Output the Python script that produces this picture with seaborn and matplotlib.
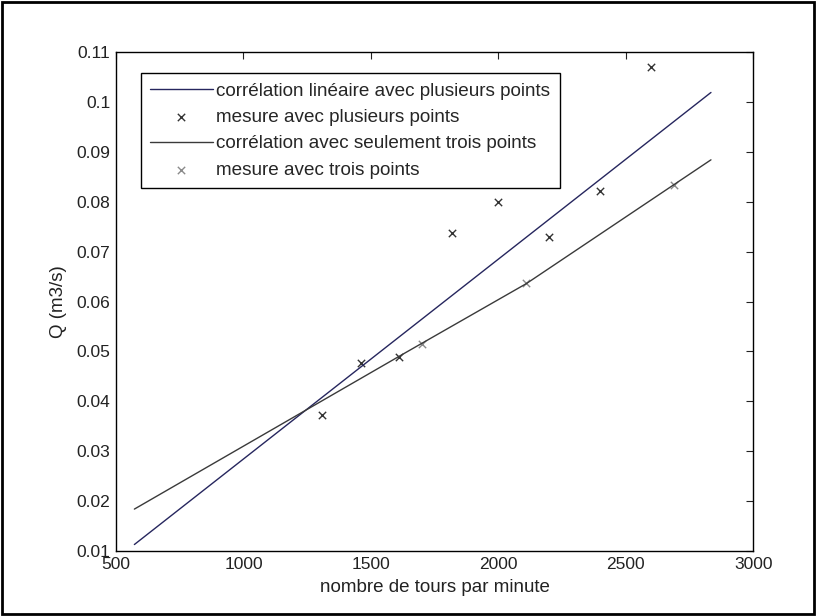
import numpy as np
import pandas as pd
import matplotlib
matplotlib.use("Agg")
import matplotlib.pyplot as plt
from matplotlib.patches import Rectangle
import seaborn as sns

# ===========================
# Data
# ===========================

# measurements with several points (black crosses)
rpm_many = [1310, 1460, 1610, 1820, 2000, 2200, 2400, 2600]
q_many = [0.0373, 0.0476, 0.0489, 0.0738, 0.0800, 0.0729, 0.0822, 0.1070]

# measurements with three points (grey crosses)
rpm_three = [1700, 2110, 2690]
q_three = [0.0514, 0.0638, 0.0833]

# linear correlation with several points (vertices of the drawn line)
rpm_fit_many = [572, 2834]
q_fit_many = [0.0113, 0.1019]

# correlation with only three points (vertices of the drawn line)
rpm_fit_three = [572, 1610, 2110, 2834]
q_fit_three = [0.0184, 0.0490, 0.0636, 0.0884]

x_ticks = [500, 1000, 1500, 2000, 2500, 3000]
y_ticks = [0.01, 0.02, 0.03, 0.04, 0.05, 0.06, 0.07, 0.08, 0.09, 0.1, 0.11]
y_tick_labels = ["0.01", "0.02", "0.03", "0.04", "0.05", "0.06",
                 "0.07", "0.08", "0.09", "0.1", "0.11"]

lbl_fit_many = "corrélation linéaire avec plusieurs points"
lbl_many = "mesure avec plusieurs points"
lbl_fit_three = "corrélation avec seulement trois points"
lbl_three = "mesure avec trois points"

# ===========================
# Plot
# ===========================

sns.set_style("white")
plt.rcParams["font.family"] = ["Liberation Sans", "DejaVu Sans"]

fig = plt.figure(figsize=(8.17, 6.16), dpi=100)
ax = fig.add_axes([0.142, 0.1055, 0.780, 0.810])

df_fit_many = pd.DataFrame({"rpm": rpm_fit_many, "q": q_fit_many})
df_fit_three = pd.DataFrame({"rpm": rpm_fit_three, "q": q_fit_three})
df_many = pd.DataFrame({"rpm": rpm_many, "q": q_many})
df_three = pd.DataFrame({"rpm": rpm_three, "q": q_three})

sns.lineplot(data=df_fit_many, x="rpm", y="q", ax=ax, color="#26265e",
             linewidth=1.0, sort=False, estimator=None, label=lbl_fit_many)
sns.scatterplot(data=df_many, x="rpm", y="q", ax=ax, marker="x", color="#333333",
                s=28, linewidth=1.0, label=lbl_many)
sns.lineplot(data=df_fit_three, x="rpm", y="q", ax=ax, color="#3a3a3a",
             linewidth=1.0, sort=False, estimator=None, label=lbl_fit_three)
sns.scatterplot(data=df_three, x="rpm", y="q", ax=ax, marker="x", color="#8a8a8a",
                s=28, linewidth=1.0, label=lbl_three)

ax.set_xlim(500, 3000)
ax.set_ylim(0.01, 0.11)
ax.set_xticks(x_ticks)
ax.set_yticks(y_ticks)
ax.set_yticklabels(y_tick_labels)
ax.tick_params(direction="in", length=5, width=0.8, top=True, right=True,
               colors="#222222", pad=4, labelsize=12.5)
for side in ax.spines.values():
    side.set_color("black")
    side.set_linewidth(1.0)

ax.set_xlabel("nombre de tours par minute", fontsize=13.5, color="#222222",
              labelpad=5)
ax.set_ylabel("Q (m3/s)", fontsize=13.5, color="#222222", labelpad=7)

leg = ax.legend(loc="upper left", bbox_to_anchor=(0.039, 0.958), borderaxespad=0,
                fancybox=False, edgecolor="black", framealpha=1, fontsize=13.6,
                handlelength=3.3, handletextpad=0.2, labelspacing=0.48,
                borderpad=0.5)
leg.get_frame().set_linewidth(1.0)

# outer frame around the whole figure
fig.patches.append(Rectangle((0.003, 0.004), 0.993, 0.992, transform=fig.transFigure,
                             fill=False, edgecolor="black", linewidth=2.0))

fig.savefig("out.png", dpi=100, facecolor="white")
